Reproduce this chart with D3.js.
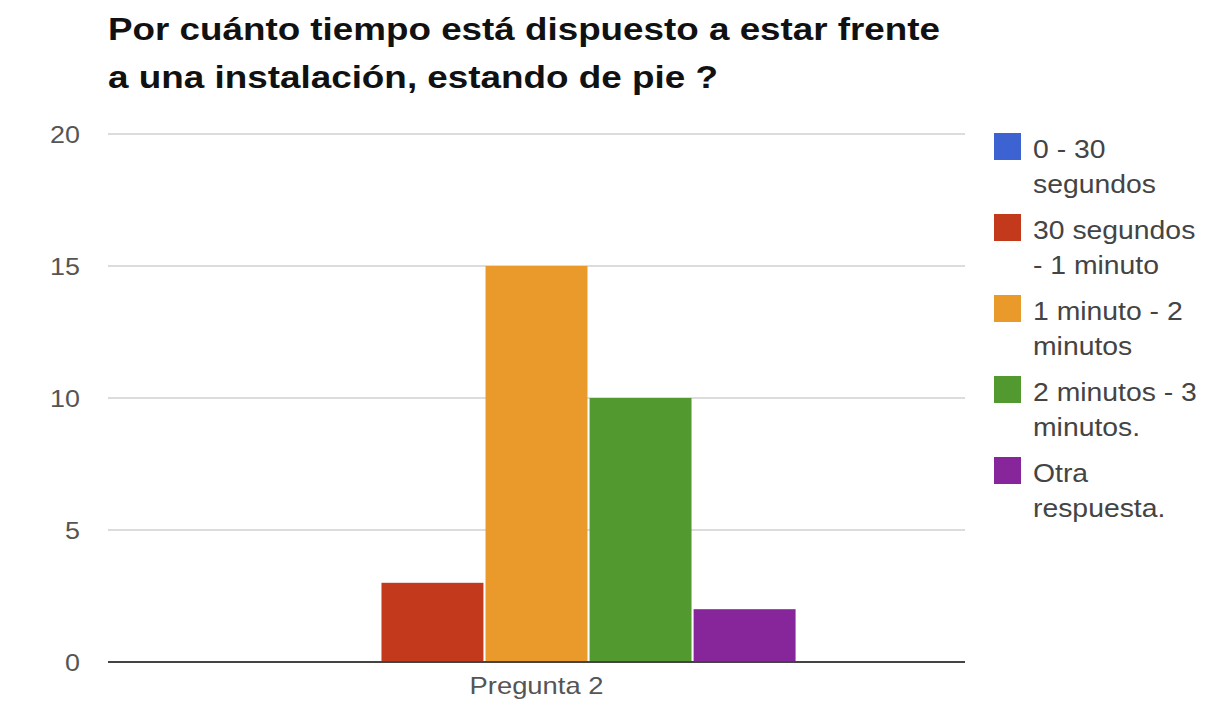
<!DOCTYPE html>
<html>
<head>
<meta charset="utf-8">
<script src="https://cdn.jsdelivr.net/npm/d3@7"></script>
<style>
  html, body { margin: 0; padding: 0; background: #fff; }
  svg { display: block; font-family: "Liberation Sans", Arial, Helvetica, sans-serif; }
</style>
</head>
<body>
<svg id="chart" width="1228" height="711"></svg>
<script>
// ---- data ----
const titleLines = ["Por cuánto tiempo está dispuesto a estar frente", "a una instalación, estando de pie ?"];
const categories = ["Pregunta 2"];
const seriesNames = [
  ["0 - 30", "segundos"],
  ["30 segundos", "- 1 minuto"],
  ["1 minuto - 2", "minutos"],
  ["2 minutos - 3", "minutos."],
  ["Otra", "respuesta."]
];
const seriesValues = [0, 3, 15, 10, 2];
const seriesColors = ["#3c63d1", "#c23a1b", "#e99a2a", "#529a30", "#87259a"];
const yTicks = [0, 5, 10, 15, 20];

// ---- layout ----
(function() {
const svg = d3.select("#chart");
const plotLeft = 108, plotRight = 965, plotTop = 134, plotBottom = 662;
const sx = 1.12; // horizontal stretch of the reference text

function stretch(sel, factor) {
  sel.each(function() {
    const len = this.getComputedTextLength();
    d3.select(this).attr("textLength", len * factor).attr("lengthAdjust", "spacingAndGlyphs");
  });
}

const y = d3.scaleLinear().domain([0, 20]).range([plotBottom, plotTop]);
const x0 = d3.scaleBand().domain(categories).range([plotLeft, plotRight]).paddingInner(0).paddingOuter(0.327);
const x1 = d3.scaleBand().domain(d3.range(seriesValues.length)).range([0, x0.bandwidth()]).paddingInner(0.02).paddingOuter(0);

// title
const titleWidths = [832, 610];
svg.selectAll("text.title").data(titleLines).join("text")
  .attr("class", "title")
  .attr("x", 108)
  .attr("y", (d, i) => 40 + i * 48)
  .attr("font-size", 32)
  .attr("font-weight", "bold")
  .attr("fill", "#111")
  .text(d => d)
  .attr("textLength", (d, i) => titleWidths[i])
  .attr("lengthAdjust", "spacingAndGlyphs");

// gridlines
svg.append("g").selectAll("line").data(yTicks.filter(t => t !== 0)).join("line")
  .attr("x1", plotLeft).attr("x2", plotRight)
  .attr("y1", d => y(d)).attr("y2", d => y(d))
  .attr("stroke", "#d0d0d0").attr("stroke-width", 1.5);

// y-axis labels
const yAxis = svg.append("g").attr("transform", `translate(${plotLeft},0)`)
  .call(d3.axisLeft(y).tickValues(yTicks).tickSize(0).tickPadding(28));
yAxis.select(".domain").remove();
yAxis.selectAll("text")
  .attr("font-size", 24)
  .attr("fill", "#555")
  .attr("font-family", "'Liberation Sans', Arial, sans-serif")
  .attr("dy", "0.35em");
stretch(yAxis.selectAll("text"), sx);

// bars
const g = svg.append("g");
categories.forEach(cat => {
  g.selectAll("rect.bar").data(seriesValues).join("rect")
    .attr("class", "bar")
    .attr("x", (d, i) => x0(cat) + x1(i))
    .attr("width", x1.bandwidth())
    .attr("y", d => y(d))
    .attr("height", d => y(0) - y(d))
    .attr("fill", (d, i) => seriesColors[i]);
});

// baseline
svg.append("line")
  .attr("x1", plotLeft).attr("x2", plotRight)
  .attr("y1", y(0)).attr("y2", y(0))
  .attr("stroke", "#444").attr("stroke-width", 2);

// x-axis label
const xAxis = svg.append("g").attr("transform", `translate(0,${plotBottom})`)
  .call(d3.axisBottom(x0).tickSize(0).tickPadding(30));
xAxis.select(".domain").remove();
xAxis.selectAll("text")
  .attr("font-size", 24)
  .attr("fill", "#555")
  .attr("font-family", "'Liberation Sans', Arial, sans-serif")
  .attr("dy", "0.1em");
stretch(xAxis.selectAll("text"), 1.14);

// legend
const legend = svg.append("g");
const entryTop = 158, entryStep = 81, lineStep = 35;
seriesNames.forEach((lines, i) => {
  const by = entryTop + i * entryStep;
  legend.append("rect")
    .attr("x", 994).attr("y", by - 25)
    .attr("width", 27).attr("height", 27)
    .attr("fill", seriesColors[i]);
  lines.forEach((t, j) => {
    const txt = legend.append("text")
      .attr("x", 1033).attr("y", by + j * lineStep)
      .attr("font-size", 26)
      .attr("fill", "#444")
      .text(t);
    stretch(txt, 1.09);
  });
});
})();
</script>
</body>
</html>
